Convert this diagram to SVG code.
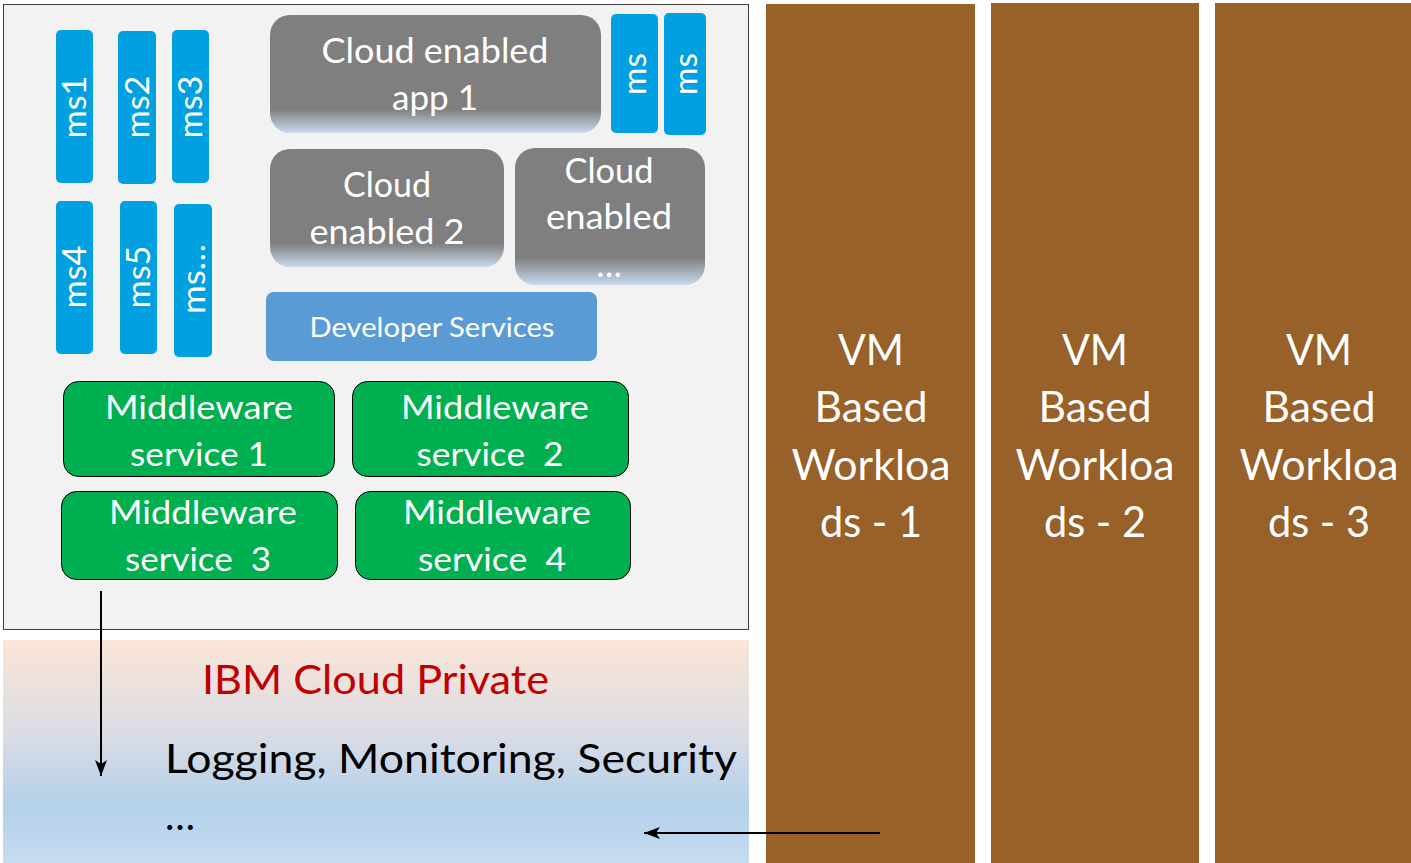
<svg xmlns="http://www.w3.org/2000/svg" width="1411" height="863" viewBox="0 0 1411 863">
<defs>
<linearGradient id="gGray" x1="0" y1="0" x2="0" y2="1">
<stop offset="0" stop-color="#7f7f7f"/><stop offset="0.8" stop-color="#7f7f7f"/><stop offset="1" stop-color="#c9daee"/>
</linearGradient>
<linearGradient id="gBottom" x1="0" y1="0" x2="0" y2="1">
<stop offset="0" stop-color="#fbe5d6"/><stop offset="0.4" stop-color="#dcdde5"/><stop offset="0.75" stop-color="#b4d0ea"/><stop offset="1" stop-color="#c7dcf0"/>
</linearGradient>
<marker id="arr2" viewBox="0 0 16 12" refX="16" refY="6" markerWidth="16" markerHeight="12" markerUnits="userSpaceOnUse" orient="auto">
<path d="M0,0 L16,6 L0,12 L4,6 z" fill="#000"/>
</marker>
</defs>
<style>
text{font-family:Lato,"Liberation Sans",sans-serif;}
.ms{fill:#00a0e1;}
.mst{fill:#fff;font-size:32px;text-anchor:middle;}
.gray{fill:url(#gGray);}
.gt{fill:#fff;font-size:34px;text-anchor:middle;}
.mw{fill:#00b050;stroke:#000;stroke-width:1;}
.mwt{fill:#fff;font-size:32px;text-anchor:middle;}
.vm{fill:#976129;}
.vmt{fill:#fff;font-size:43px;text-anchor:middle;}
.conn{stroke:#000;stroke-width:2;fill:none;}
</style>
<rect x="0" y="0" width="1411" height="863" fill="#fff"/>

<g id="platform">
<rect x="3.5" y="4.5" width="745" height="625" fill="#f2f2f2" stroke="#404040" stroke-width="1"/>
</g>

<g id="ms1"><rect class="ms" x="56" y="30" width="37" height="153" rx="5"/><text class="mst" transform="translate(86,107) rotate(-90)" textLength="63" lengthAdjust="spacingAndGlyphs">ms1</text></g>
<g id="ms2"><rect class="ms" x="118" y="31" width="38" height="153" rx="5"/><text class="mst" transform="translate(149,107) rotate(-90)" textLength="63" lengthAdjust="spacingAndGlyphs">ms2</text></g>
<g id="ms3"><rect class="ms" x="172" y="30" width="37" height="153" rx="5"/><text class="mst" transform="translate(202,107) rotate(-90)" textLength="63" lengthAdjust="spacingAndGlyphs">ms3</text></g>
<g id="ms4"><rect class="ms" x="56" y="201" width="37" height="153" rx="5"/><text class="mst" transform="translate(86,277) rotate(-90)" textLength="63" lengthAdjust="spacingAndGlyphs">ms4</text></g>
<g id="ms5"><rect class="ms" x="120" y="201" width="37" height="153" rx="5"/><text class="mst" transform="translate(150,277) rotate(-90)" textLength="63" lengthAdjust="spacingAndGlyphs">ms5</text></g>
<g id="ms6"><rect class="ms" x="174" y="204" width="38" height="153" rx="5"/><text class="mst" transform="translate(205,279) rotate(-90)" textLength="70" lengthAdjust="spacingAndGlyphs">ms…</text></g>

<g id="app1"><rect class="gray" x="270" y="15" width="331" height="118" rx="20"/><text class="gt" x="435" y="63" textLength="227" lengthAdjust="spacingAndGlyphs">Cloud enabled</text><text class="gt" x="435" y="110" textLength="86" lengthAdjust="spacingAndGlyphs">app 1</text></g>
<g id="msA"><rect class="ms" x="611" y="14" width="47" height="119" rx="5"/><text class="mst" transform="translate(646,74) rotate(-90)" textLength="42" lengthAdjust="spacingAndGlyphs">ms</text></g>
<g id="msB"><rect class="ms" x="664" y="13" width="42" height="122" rx="5"/><text class="mst" transform="translate(697,74) rotate(-90)" textLength="42" lengthAdjust="spacingAndGlyphs">ms</text></g>
<g id="app2"><rect class="gray" x="270" y="149" width="234" height="118" rx="20"/><text class="gt" x="387" y="197" textLength="88" lengthAdjust="spacingAndGlyphs">Cloud</text><text class="gt" x="387" y="244" textLength="155" lengthAdjust="spacingAndGlyphs">enabled 2</text></g>
<g id="app3"><rect class="gray" x="515" y="148" width="190" height="137" rx="20"/><text class="gt" x="609" y="183" textLength="89" lengthAdjust="spacingAndGlyphs">Cloud</text><text class="gt" x="609" y="229" textLength="126" lengthAdjust="spacingAndGlyphs">enabled</text><text class="gt" x="609" y="277">…</text></g>

<g id="devsvc"><rect x="266" y="292" width="331" height="69" rx="8" fill="#5b9bd5"/><text x="432" y="337" fill="#fff" font-size="27" text-anchor="middle" textLength="245" lengthAdjust="spacingAndGlyphs">Developer Services</text></g>

<g id="mw1"><rect class="mw" x="63.5" y="381.5" width="271" height="95" rx="15"/><text class="mwt" x="199" y="419" textLength="188" lengthAdjust="spacingAndGlyphs">Middleware</text><text class="mwt" x="199" y="466" textLength="138" lengthAdjust="spacingAndGlyphs">service 1</text></g>
<g id="mw2"><rect class="mw" x="352.5" y="381.5" width="276" height="95" rx="15"/><text class="mwt" x="495" y="419" textLength="188" lengthAdjust="spacingAndGlyphs">Middleware</text><text class="mwt" x="490" y="466" xml:space="preserve" textLength="147" lengthAdjust="spacingAndGlyphs">service  2</text></g>
<g id="mw3"><rect class="mw" x="61.5" y="491.5" width="276" height="88" rx="15"/><text class="mwt" x="203" y="524" textLength="188" lengthAdjust="spacingAndGlyphs">Middleware</text><text class="mwt" x="198" y="571" xml:space="preserve" textLength="146" lengthAdjust="spacingAndGlyphs">service  3</text></g>
<g id="mw4"><rect class="mw" x="355.5" y="491.5" width="275" height="88" rx="15"/><text class="mwt" x="497" y="524" textLength="188" lengthAdjust="spacingAndGlyphs">Middleware</text><text class="mwt" x="492" y="571" xml:space="preserve" textLength="148" lengthAdjust="spacingAndGlyphs">service  4</text></g>

<g id="icp">
<rect x="3" y="640" width="746" height="223" fill="url(#gBottom)"/>
<text x="202" y="694" fill="#c00000" font-size="40" textLength="347" lengthAdjust="spacingAndGlyphs">IBM Cloud Private</text>
<text x="165" y="773" fill="#000" font-size="41" textLength="572" lengthAdjust="spacingAndGlyphs">Logging, Monitoring, Security</text>
<text x="165" y="830" fill="#000" font-size="40">…</text>
</g>

<g id="vm1"><rect class="vm" x="766" y="4" width="209" height="859"/><text class="vmt" x="871" y="365" textLength="66" lengthAdjust="spacingAndGlyphs">VM</text><text class="vmt" x="871" y="422" textLength="113" lengthAdjust="spacingAndGlyphs">Based</text><text class="vmt" x="871" y="480" textLength="159" lengthAdjust="spacingAndGlyphs">Workloa</text><text class="vmt" x="871" y="537" textLength="102" lengthAdjust="spacingAndGlyphs">ds - 1</text></g>
<g id="vm2"><rect class="vm" x="991" y="3" width="208" height="860"/><text class="vmt" x="1095" y="365" textLength="66" lengthAdjust="spacingAndGlyphs">VM</text><text class="vmt" x="1095" y="422" textLength="113" lengthAdjust="spacingAndGlyphs">Based</text><text class="vmt" x="1095" y="480" textLength="159" lengthAdjust="spacingAndGlyphs">Workloa</text><text class="vmt" x="1095" y="537" textLength="102" lengthAdjust="spacingAndGlyphs">ds - 2</text></g>
<g id="vm3"><rect class="vm" x="1215" y="3" width="196" height="860"/><text class="vmt" x="1319" y="365" textLength="66" lengthAdjust="spacingAndGlyphs">VM</text><text class="vmt" x="1319" y="422" textLength="113" lengthAdjust="spacingAndGlyphs">Based</text><text class="vmt" x="1319" y="480" textLength="159" lengthAdjust="spacingAndGlyphs">Workloa</text><text class="vmt" x="1319" y="537" textLength="102" lengthAdjust="spacingAndGlyphs">ds - 3</text></g>

<g id="connectors">
<line class="conn" x1="101" y1="591" x2="101" y2="776" marker-end="url(#arr2)"/>
<line class="conn" x1="880" y1="833" x2="644" y2="833" marker-end="url(#arr2)"/>
</g>
</svg>
